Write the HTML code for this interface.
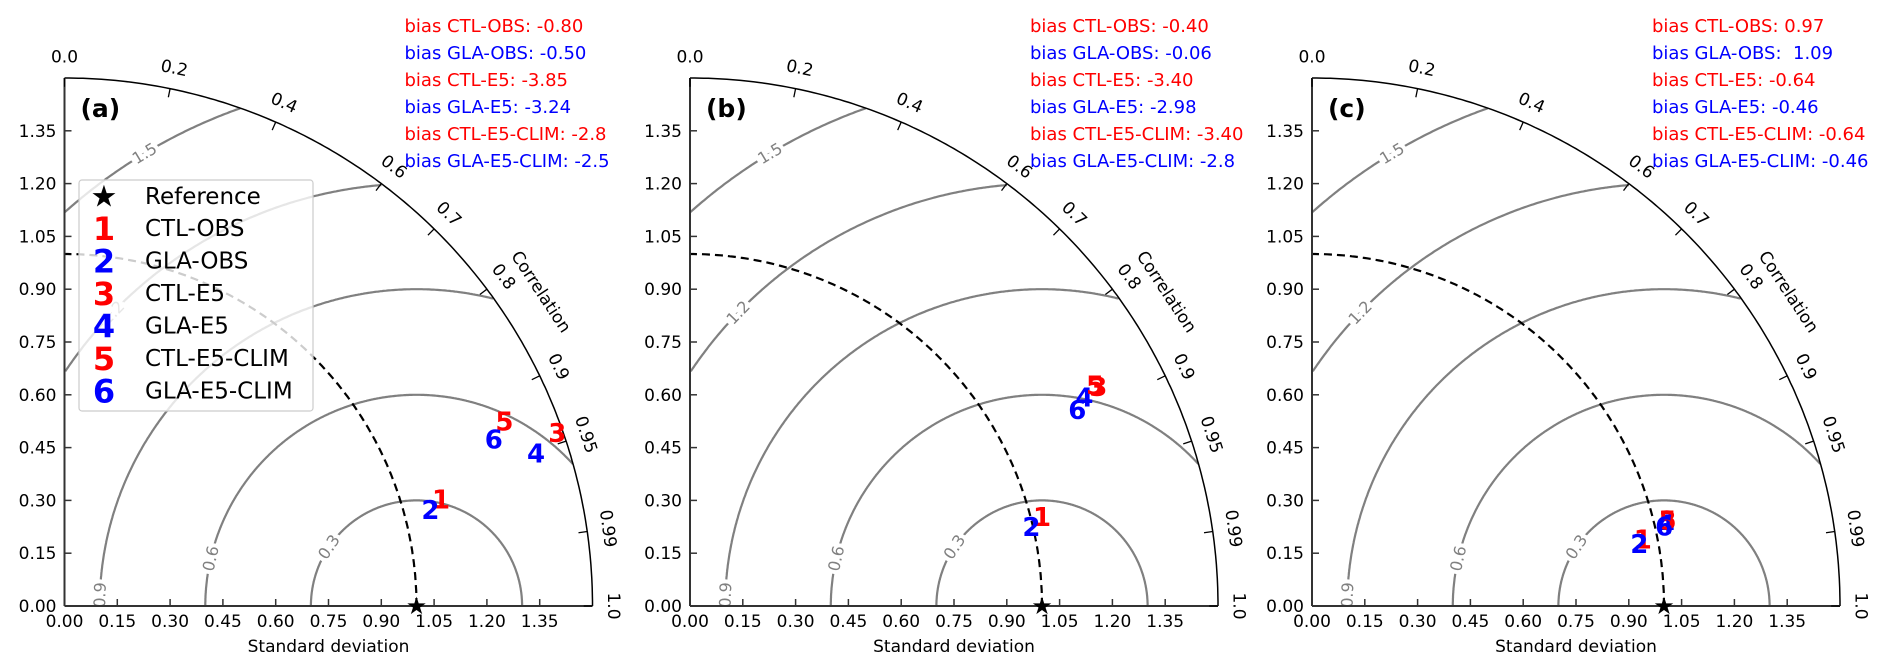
<!DOCTYPE html>
<html><head><meta charset="utf-8">
<style>
html,body{margin:0;padding:0;background:#fff;}
svg{display:block;font-family:"DejaVu Sans","Liberation Sans",sans-serif;}
</style></head>
<body>
<svg id="chart" width="1892" height="670" viewBox="0 0 1892 670" xmlns="http://www.w3.org/2000/svg"></svg>
<script>
const panelLabels = ['(a)','(b)','(c)'];
const seriesNames = ['CTL-OBS','GLA-OBS','CTL-E5','GLA-E5','CTL-E5-CLIM','GLA-E5-CLIM'];
const seriesColors = ['#ff0000','#0000ff','#ff0000','#0000ff','#ff0000','#0000ff'];
const stdA = [1.111,1.074,1.483,1.407,1.354,1.307];
const corA = [0.963,0.968,0.944,0.952,0.923,0.933];
const stdB = [1.031,0.995,1.315,1.266,1.309,1.232];
const corB = [0.970,0.975,0.882,0.885,0.879,0.893];
const stdC = [0.958,0.946,1.038,1.031,1.038,1.025];
const corC = [0.981,0.983,0.973,0.975,0.973,0.976];
const biasA = ['-0.80','-0.50','-3.85','-3.24','-2.8','-2.5'];
const biasB = ['-0.40','-0.06','-3.40','-2.98','-3.40','-2.8'];
const biasC = ['0.97',' 1.09','-0.64','-0.46','-0.64','-0.46'];
const xTicks = [0,0.15,0.30,0.45,0.60,0.75,0.90,1.05,1.20,1.35];
const corrTicks = [0.0,0.2,0.4,0.6,0.7,0.8,0.9,0.95,0.99,1.0];
const rmsLevels = [0.3,0.6,0.9,1.2,1.5];
const rmsLabelAng = [146,167,178,136,121];
const refStd = 1.0;
const maxStd = 1.5;

const NS='http://www.w3.org/2000/svg';
const svg=document.getElementById('chart');
const origins=[64.5,690,1312];
const Y0=606, U=352;
function mk(tag,attrs,parent){const e=document.createElementNS(NS,tag);for(const k in attrs)e.setAttribute(k,attrs[k]);(parent||svg).appendChild(e);return e;}

const stds=[stdA,stdB,stdC], cors=[corA,corB,corC], biases=[biasA,biasB,biasC];
origins.forEach((ox,pi)=>{
  const g=mk('g',{});
  
  
  const sx=v=>ox+v*U, sy=v=>Y0-v*U;
  rmsLevels.forEach((r,i)=>{
    let pts=[];
    for(let k=0;k<=720;k++){const a=Math.PI*k/720;const x=refStd+r*Math.cos(a),y=r*Math.sin(a);
      if(x>=0 && Math.hypot(x,y)<=maxStd+1e-9) pts.push(sx(x).toFixed(1)+','+sy(y).toFixed(1));}
    const p=mk('polyline',{points:pts.join(' '),fill:'none',stroke:'#808080','stroke-width':2.2},g);
    
    
  });
  let dp=[];for(let k=0;k<=180;k++){const a=Math.PI/2*k/180;dp.push(sx(refStd*Math.cos(a)).toFixed(1)+','+sy(refStd*Math.sin(a)).toFixed(1));}
  const da=mk('polyline',{points:dp.join(' '),fill:'none',stroke:'#000','stroke-width':2.2,'stroke-dasharray':'8,5'},g);
  
  
  rmsLevels.forEach((r,i)=>{
    const a=rmsLabelAng[i]*Math.PI/180;const x=refStd+r*Math.cos(a),y=r*Math.sin(a);
    const rot=-(rmsLabelAng[i]-90);
    const t=mk('text',{x:sx(x),y:sy(y),'font-size':16,fill:'#808080','text-anchor':'middle','dominant-baseline':'central',
      transform:`rotate(${rot} ${sx(x)} ${sy(y)})`,stroke:'#fff','stroke-width':8,'paint-order':'stroke'},g);
    t.textContent=r.toFixed(1);
    
    
  });
  let op=[];for(let k=0;k<=180;k++){const a=Math.PI/2*k/180;op.push(sx(maxStd*Math.cos(a)).toFixed(1)+','+sy(maxStd*Math.sin(a)).toFixed(1));}
  const oa=mk('polyline',{points:op.join(' '),fill:'none',stroke:'#000','stroke-width':1.5},g);
  
  
  mk('line',{x1:ox,y1:Y0,x2:sx(maxStd),y2:Y0,stroke:'#333','stroke-width':2},g);
  mk('line',{x1:ox,y1:Y0,x2:ox,y2:sy(maxStd),stroke:'#333','stroke-width':2},g);
  xTicks.forEach(v=>{
    mk('line',{x1:sx(v),y1:Y0,x2:sx(v),y2:Y0-7,stroke:'#333','stroke-width':1.5},g);
    mk('line',{x1:ox,y1:sy(v),x2:ox+7,y2:sy(v),stroke:'#333','stroke-width':1.5},g);
    const tx=mk('text',{x:sx(v),y:Y0+21,'font-size':17,'text-anchor':'middle',fill:'#000'},g);tx.textContent=v.toFixed(2);
    
    
    const ty=mk('text',{x:ox-8,y:sy(v)+6,'font-size':17,'text-anchor':'end',fill:'#000'},g);ty.textContent=v.toFixed(2);
    
    
  });
  const xl=mk('text',{x:sx(0.75),y:Y0+46,'font-size':17,'text-anchor':'middle'},g);xl.textContent='Standard deviation';
  
  
  corrTicks.forEach(c=>{
    const th=Math.acos(c);
    const x1=sx(maxStd*Math.cos(th)),y1=sy(maxStd*Math.sin(th));
    const x2=sx((maxStd-0.025)*Math.cos(th)),y2=sy((maxStd-0.025)*Math.sin(th));
    mk('line',{x1,y1,x2,y2,stroke:'#000','stroke-width':1.3},g);
    const rl=maxStd+0.058;
    const lx=sx(rl*Math.cos(th)),ly=sy(rl*Math.sin(th));
    const rot=90-th*180/Math.PI;
    const t=mk('text',{x:lx,y:ly,'font-size':17,'text-anchor':'middle','dominant-baseline':'central',transform:`rotate(${rot} ${lx} ${ly})`},g);
    t.textContent=(c===0.95||c===0.99)?c.toFixed(2):c.toFixed(1);
    
    
  });
  const cth=33.4*Math.PI/180, cr=1.62;
  const clx=sx(cr*Math.cos(cth)),cly=sy(cr*Math.sin(cth));
  const ct=mk('text',{x:clx,y:cly,'font-size':17,'text-anchor':'middle','dominant-baseline':'central',transform:`rotate(${90-33.4} ${clx} ${cly})`},g);
  ct.textContent='Correlation';
  
  
  const pl=mk('text',{x:ox+16,y:117,'font-size':25,'font-weight':'bold'},g);pl.textContent=panelLabels[pi];
  
  
  biases[pi].forEach((b,i)=>{
    const t=mk('text',{x:ox+340,y:32+27*i,'font-size':18,fill:seriesColors[i]},g);
    t.style.whiteSpace='pre';
    t.textContent='bias '+seriesNames[i]+': '+b;
    
    
  });
  if(pi===0){
    const lg=mk('g',{},g);
    
    
    mk('rect',{x:79,y:180,width:234,height:231,fill:'#fff','fill-opacity':0.8,stroke:'#ccc','stroke-width':1.2,rx:3},lg);
    mk('text',{x:104,y:197,'font-size':30,'text-anchor':'middle','dominant-baseline':'central'},lg).textContent='★';
    const rt=mk('text',{x:145,y:197,'font-size':23,'dominant-baseline':'central'},lg);rt.textContent='Reference';
    
    
    seriesNames.forEach((n,i)=>{
      const y=229+32.5*i;
      mk('text',{x:104,y:y,'font-size':32,'font-weight':'bold',fill:seriesColors[i],'text-anchor':'middle','dominant-baseline':'central'},lg).textContent=String(i+1);
      const lt=mk('text',{x:145,y:y,'font-size':23,'dominant-baseline':'central'},lg);lt.textContent=n;
      
      
    });
  }
  const st=mk('text',{x:sx(refStd),y:Y0,'font-size':24,'text-anchor':'middle','dominant-baseline':'central'},g);st.textContent='★';
  
  
  stds[pi].forEach((s,i)=>{
    const th=Math.acos(cors[pi][i]);
    const x=sx(s*Math.cos(th)),y=sy(s*Math.sin(th));
    const m=mk('text',{x,y,'font-size':26,'font-weight':'bold',fill:seriesColors[i],'text-anchor':'middle','dominant-baseline':'central'},g);
    m.textContent=String(i+1);
    
    
  });
});
</script>
</body></html>
